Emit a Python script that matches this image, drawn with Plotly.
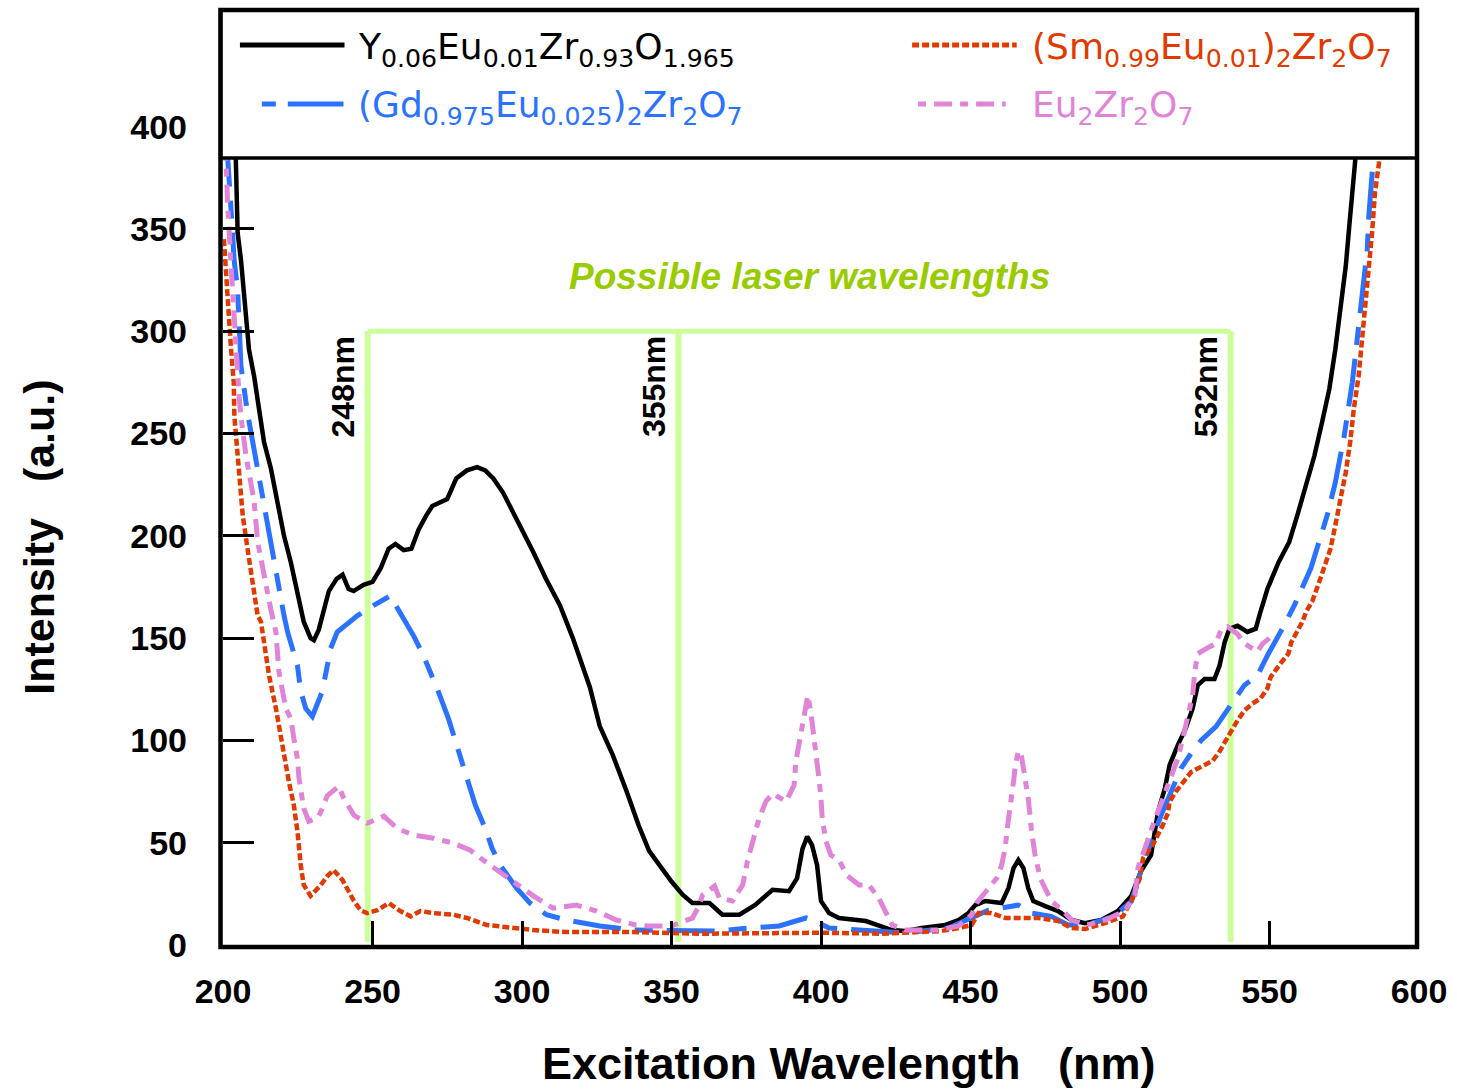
import plotly.graph_objects as go

# ---------------- data ----------------
series_names = [
    "Y<sub>0.06</sub>Eu<sub>0.01</sub>Zr<sub>0.93</sub>O<sub>1.965</sub>",
    "(Gd<sub>0.975</sub>Eu<sub>0.025</sub>)<sub>2</sub>Zr<sub>2</sub>O<sub>7</sub>",
    "(Sm<sub>0.99</sub>Eu<sub>0.01</sub>)<sub>2</sub>Zr<sub>2</sub>O<sub>7</sub>",
    "Eu<sub>2</sub>Zr<sub>2</sub>O<sub>7</sub>",
]

y_wl = [203.0, 204.3, 204.9, 206, 206.9, 207.7, 208.7, 210.4, 212, 213.7, 216, 218.2, 220.4, 222.7,
        224.9, 227, 229.3, 230.4, 232, 233.7, 235.4, 238, 240, 242, 243.7, 247, 250, 252.7, 255.4,
        257.7, 260.4, 263, 265.4, 268, 270, 275, 278, 281.6, 285, 287.7, 290.4, 293.7, 297, 300.4,
        303.8, 308, 312.7, 317, 322.7, 326, 330.4, 335, 339, 342.5, 346, 350, 353.8, 357, 362.7, 367,
        372.7, 378, 383.8, 389.3, 392, 393.8, 395.4, 397, 398.7, 400, 402.7, 406, 415, 419.3, 423.7,
        428, 433.7, 441.6, 446, 449.3, 451.6, 455, 460.4, 462.7, 464.4, 466, 467.7, 469.3, 471, 475,
        479.3, 483.8, 488.3, 493.7, 499.3, 503.8, 507, 510.4, 512.7, 515, 516.6, 519.3, 522, 524.3,
        526, 528.3, 531.6, 533.3, 535, 536.6, 539.3, 542.6, 545.4, 547, 549.3, 553, 556.6, 559.3,
        562.6, 565, 567.6, 570, 572, 573.8, 575.5, 576.6, 577.7, 578.7, 580.5]
y_int = [460, 384, 348, 335, 320, 304, 291, 278, 262, 246, 233, 216.5, 200, 187,
         171, 158, 150, 149, 154, 163, 173, 179, 181, 174, 173, 176, 177.5, 184, 193.7,
         196, 193, 193.7, 203, 210, 214.6, 218, 228, 232, 233.6, 232, 228, 221, 211.7, 202,
         192, 179, 166, 150, 126, 107, 92.7, 75, 58.5, 46, 39, 31, 24.5, 20.5, 20.5, 14.8,
         14.8, 19.6, 27, 26.3, 32.7, 47, 53, 48.8, 39, 21.5, 15.6, 13.2, 11.7, 9.8, 7.3,
         6.8, 8.3, 9.8, 12.2, 15.6, 19.5, 21.5, 20.5, 27.8, 37.6, 41.5, 37.6, 27.8, 21.5, 19,
         16.6, 12.2, 10.7, 12.2, 16.6, 24, 36, 44, 65, 76.6, 88, 97.6, 106, 115.6,
         127, 130, 130, 136.6, 148, 154.6, 156, 153, 154.6, 163, 174, 187, 197, 210,
         226, 239, 255.6, 271.7, 291, 310.7, 331.7, 350, 369, 384, 460]

gd_wl = [200.5, 201.6, 203.2, 203.7, 204.9, 205.4, 206, 208.2, 209.9, 211.6, 213.2, 214.9, 216.6,
         218.2, 220.4, 221.6, 224.9, 226, 227.7, 229.9, 233.2, 234.9, 236, 238.2, 245, 250.4, 253.2,
         256, 258.2, 263.8, 267, 270.4, 272, 275.4, 278.2, 280.4, 284.4, 287.7, 290, 292.7, 298.2,
         302.7, 308.2, 314.9, 326, 337, 350, 365, 376, 386, 395, 398, 402.7, 415, 428, 442.7, 450.4,
         456, 466, 470.4, 477, 482.7, 489, 498, 503.8, 508.2, 513.8, 520.4, 523.8, 527.1, 532.1,
         537.1, 539.3, 541.6, 546, 549.3, 554.3, 558.3, 563.8, 569.3, 572, 575, 577.7, 579.3, 580.4,
         581.6, 582.7, 583.2, 584.3, 584.7, 586.5]
gd_int = [440, 384, 348, 335, 320, 302, 283, 260, 246, 234, 219.5, 206.8, 193.7,
          177.5, 161, 153, 136.6, 124, 115.6, 111.7, 124, 136.6, 145, 153, 161, 166, 168.3,
          170.7, 165, 151, 141.5, 130, 124, 110.7, 97.6, 86, 68.3, 57, 47.3, 39, 27.8,
          20.5, 14.8, 12.2, 9.3, 7.3, 6.8, 6.8, 8.3, 9.3, 13.2, 11.7, 8.3, 7.3, 5.9, 8.3, 13.2,
          17, 19.5, 15.6, 14, 9.8, 9.8, 14, 21.3, 41.6, 63.6, 86.3, 93.7, 100, 106.7,
          117, 122, 127, 131.7, 141.5, 154.6, 166, 184, 210, 226, 249, 275, 294.6, 307,
          324, 340, 356, 372.7, 384, 460]

sm_wl = [200.3, 201, 201.6, 202.7, 203.6, 203.8, 204.7, 205.5, 206.6, 208.2, 209.9, 211.6, 212.7,
         213.7, 215.4, 217.7, 219.3, 220.4, 222, 223.7, 224.9, 226, 227, 229.3, 232.7, 234.9, 237,
         240, 242, 243.8, 246, 248.2, 251.6, 255.4, 259.3, 262.7, 266, 270.4, 277, 281.6, 288.2, 296,
         303.8, 315, 337, 360, 380, 400, 420, 440, 446, 450.4, 452.7, 457, 461.6, 472.7, 479.3,
         483.8, 488.3, 495, 501, 504.3, 506.6, 507.7, 511, 512.7, 514.3, 516, 516.6, 518.7, 521.6,
         523.8, 528.3, 531, 533.3, 535.4, 537, 539.3, 541.6, 544.3, 547, 549.3, 550.4, 553.7, 556.3,
         557.3, 559.3, 561, 562.3, 564.3, 567, 570.4, 572, 573.8, 575.5, 577, 578.2, 579.8, 581,
         582, 583.2, 584.3, 585.3, 586.6, 588.5]
sm_int = [345, 332, 315.6, 291, 275, 258.5, 242.4, 226, 210, 193.7, 177.6, 161, 158,
          148, 131.7, 115.6, 102.4, 91, 80, 68.3, 55.6, 39, 29.3, 24, 29.3, 33.7, 36.6,
          31.7, 26.3, 21.5, 17, 15.6, 17, 20.5, 16.6, 14, 16.6, 15.6, 14.8, 13.2, 9.8, 8.3,
          7.3, 6.3, 6.3, 5.5, 5.8, 6, 5.5, 6.8, 8.3, 9.8, 15.6, 15.6, 13.2, 13.2, 11.7,
          8.3, 7.8, 10.7, 14, 23, 32.7, 42.4, 49, 53.7, 58.5, 64.4, 70, 75, 80,
          84.6, 88, 90, 94.6, 99.5, 104, 109.7, 114.6, 118, 120.5, 125.4, 131, 137.6, 142.4,
          148, 153, 158, 163, 168, 179, 193.7, 205, 218, 231, 246, 262, 278, 296,
          314, 330, 348, 368, 382, 460]

eu_wl = [200.5, 201, 201.6, 202.7, 203.2, 203.7, 204.3, 205.4, 206, 207.7, 209.3, 210.4, 211.6,
         213.2, 214.3, 216, 217.7, 218.7, 221, 222.7, 223.7, 224.9, 225.4, 226.6, 227, 228.7, 231.6,
         232.7, 234.9, 238.7, 240.4, 243.8, 248.2, 253.8, 258.2, 263.8, 270.4, 277, 282.7, 287,
         291.6, 298.2, 303.8, 310.4, 318.2, 324.9, 331.6, 338, 342, 350, 357, 358.8, 360.4, 364.4,
         366, 370.4, 373.8, 375.4, 377.7, 379.3, 381.6, 383.8, 388.3, 391, 391.6, 392.7, 393.8, 395,
         395.6, 396.6, 397.7, 398.7, 399.3, 400, 400.4, 401.6, 403.3, 406, 408.7, 412.7, 416, 419.3,
         422, 423.8, 428, 439, 446, 450.4, 452, 455.4, 458.8, 460.4, 461.6, 462.3, 463.3, 464.4, 465,
         466, 467, 468.2, 469.3, 469.9, 470.4, 471.6, 473.3, 477, 481, 483.8, 489, 495, 501.6, 505,
         506, 511, 513.8, 516.6, 519.3, 521, 522.7, 524.3, 525, 526, 530, 532, 533.7, 536, 539.3,
         541.6, 546, 547.7, 550]
eu_int = [400, 372.7, 361, 332, 320, 302, 288, 268, 258.5, 239, 226, 216.6, 197,
          185, 174, 164, 153, 133.6, 115.6, 110.7, 101, 91, 81.5, 71.7, 66.8, 60.5, 62,
          65, 73, 77.6, 71.7, 63.4, 59.5, 63, 57, 53.7, 52.2, 49.8, 46.3, 41.5,
          36.6, 29.3, 24, 18, 19.5, 16.6, 12.2, 9.8, 9.3, 9.3, 13.2, 18, 24.4, 28.8,
          23, 21.5, 29.3, 41, 52.2, 62, 70.2, 74, 70.2, 78, 89.8, 99.5, 109.8, 119,
          122, 114, 102.4, 91, 81.5, 71.7, 62, 51, 44, 41.5, 34, 29.3, 29.3, 23,
          14.8, 9.8, 7.3, 7.3, 9.3, 14.8, 20.5, 27, 32.7, 39, 47.3, 57, 66.8, 80, 87.8,
          95, 92.7, 83, 71.7, 63.4, 55.6, 44, 32.7, 21.5, 16.6, 12.2, 9.8, 12.2, 16.6, 24.4,
          37.6, 58.5, 70, 80, 91, 101, 112, 122, 133.6, 142.4, 145.8, 147.3, 153.7, 155.6, 152,
          147.3, 143.4, 147.3, 150]

x_ticks = [200, 250, 300, 350, 400, 450, 500, 550, 600]
y_ticks = [0, 50, 100, 150, 200, 250, 300, 350, 400]

laser_labels = ["248nm", "355nm", "532nm"]
laser_line_x = [248.4, 352.3, 537.0]   # where the marker lines sit in the picture
bracket_top = 300
bracket_title = "Possible laser wavelengths"

# ---------------- styling ----------------
C_BLACK = "#000000"
C_BLUE = "#2a72ff"
C_RED = "#e03a00"
C_PINK = "#e084d8"
C_GREEN_LINE = "#ccff99"
C_GREEN_TEXT = "#99cc00"

W, H = 1457, 1091
L, R, T, B = 223, 33, 10, 146
PW, PH = W - L - R, H - T - B


def px(xp):
    return (xp - L) / PW


def py(yp):
    return (H - B - yp) / PH


styles = [
    dict(color=C_BLACK, width=4.5, dash="solid"),
    dict(color=C_BLUE, width=5, dash="48px,14px,18px,14px"),
    dict(color=C_RED, width=4.5, dash="7px,3px"),
    dict(color=C_PINK, width=5, dash="8px,8px,18px,8px"),
]
curves = [(y_wl, y_int), (gd_wl, gd_int), (sm_wl, sm_int), (eu_wl, eu_int)]

fig = go.Figure()
for (xs, ys), st, nm in zip(curves, styles, series_names):
    fig.add_trace(go.Scatter(x=xs, y=ys, mode="lines", name=nm, line=st, showlegend=False))

shapes = []
annotations = []

# green bracket for laser wavelengths
shapes.append(dict(type="line", xref="x", yref="y", x0=laser_line_x[0], x1=laser_line_x[-1],
                   y0=bracket_top, y1=bracket_top, line=dict(color=C_GREEN_LINE, width=5), layer="below"))
for lx, lab in zip(laser_line_x, laser_labels):
    shapes.append(dict(type="line", xref="x", yref="y", x0=lx, x1=lx, y0=1.5, y1=bracket_top,
                       line=dict(color=C_GREEN_LINE, width=6), layer="below"))
    annotations.append(dict(x=lx, y=bracket_top, xref="x", yref="y", text=lab, showarrow=False,
                            textangle=-90, xanchor="right", yanchor="top", xshift=-5, yshift=-3,
                            font=dict(family="Liberation Sans", size=32, color="black", weight="bold")))

annotations.append(dict(x=px(812), y=py(276), xref="paper", yref="paper", text=bracket_title,
                        showarrow=False, xanchor="center", yanchor="middle",
                        font=dict(family="Liberation Sans", size=37, color=C_GREEN_TEXT,
                                  weight="bold", style="italic")))

# legend box (covers curves above it)
shapes.append(dict(type="rect", xref="paper", yref="paper", x0=px(220.5), x1=px(1422),
                   y0=py(158), y1=py(10), fillcolor="white", line=dict(color="black", width=3.5),
                   layer="above"))
# frame
shapes.append(dict(type="rect", xref="paper", yref="paper", x0=px(220.5), x1=px(1422),
                   y0=py(947), y1=py(10), fillcolor="rgba(0,0,0,0)", line=dict(color="black", width=4.5),
                   layer="above"))

# legend entries
leg_pos = [  # (sample x0, sample x1, sample y, text x, text y)
    (240, 345, 45, 357, 50),
    (262, 344, 104, 357, 107),
    (915, 1020, 45, 1033, 50),
    (921, 1009, 104, 1033, 107),
]
leg_dash = ["solid", "14px,12px,56px", "7px,3px", "8px,8px,18px,8px"]
for (x0, x1, ly, tx, ty), st, dsh, nm in zip(leg_pos, styles, leg_dash, series_names):
    shapes.append(dict(type="line", xref="paper", yref="paper", x0=px(x0), x1=px(x1),
                       y0=py(ly), y1=py(ly), line=dict(color=st["color"], width=5, dash=dsh),
                       layer="above"))
    annotations.append(dict(x=px(tx), y=py(ty), xref="paper", yref="paper", text=nm, showarrow=False,
                            xanchor="left", yanchor="middle",
                            font=dict(family="DejaVu Sans", size=36, color=st["color"])))

# axis titles
annotations.append(dict(x=px(851), y=py(1063), xref="paper", yref="paper",
                        text="Excitation Wavelength\u00a0\u00a0\u00a0(nm)", showarrow=False,
                        xanchor="center", yanchor="middle",
                        font=dict(family="Liberation Sans", size=45, color="black", weight="bold")))
annotations.append(dict(x=px(38), y=py(537), xref="paper", yref="paper",
                        text="Intensity\u00a0\u00a0\u00a0(a.u.)", showarrow=False, textangle=-90,
                        xanchor="center", yanchor="middle",
                        font=dict(family="Liberation Sans", size=43, color="black", weight="bold")))

tickfont = dict(family="Liberation Sans", size=34, color="black", weight="bold")
fig.update_layout(
    width=W, height=H, margin=dict(l=L, r=R, t=T, b=B),
    paper_bgcolor="white", plot_bgcolor="white", showlegend=False,
    xaxis=dict(range=[200, 600], tickvals=x_ticks, ticktext=[str(v) for v in x_ticks],
               ticks="inside", ticklen=24, tickwidth=2.5, tickcolor="black",
               showgrid=False, zeroline=False, showline=False, tickfont=tickfont,
               ticklabelstandoff=23),
    yaxis=dict(range=[0, 457], tickvals=y_ticks, ticktext=[str(v) for v in y_ticks],
               ticks="inside", ticklen=31, tickwidth=2.5, tickcolor="black",
               showgrid=False, zeroline=False, showline=False, tickfont=tickfont,
               ticklabelstandoff=35),
    shapes=shapes, annotations=annotations,
)

fig.write_html("out.html")
